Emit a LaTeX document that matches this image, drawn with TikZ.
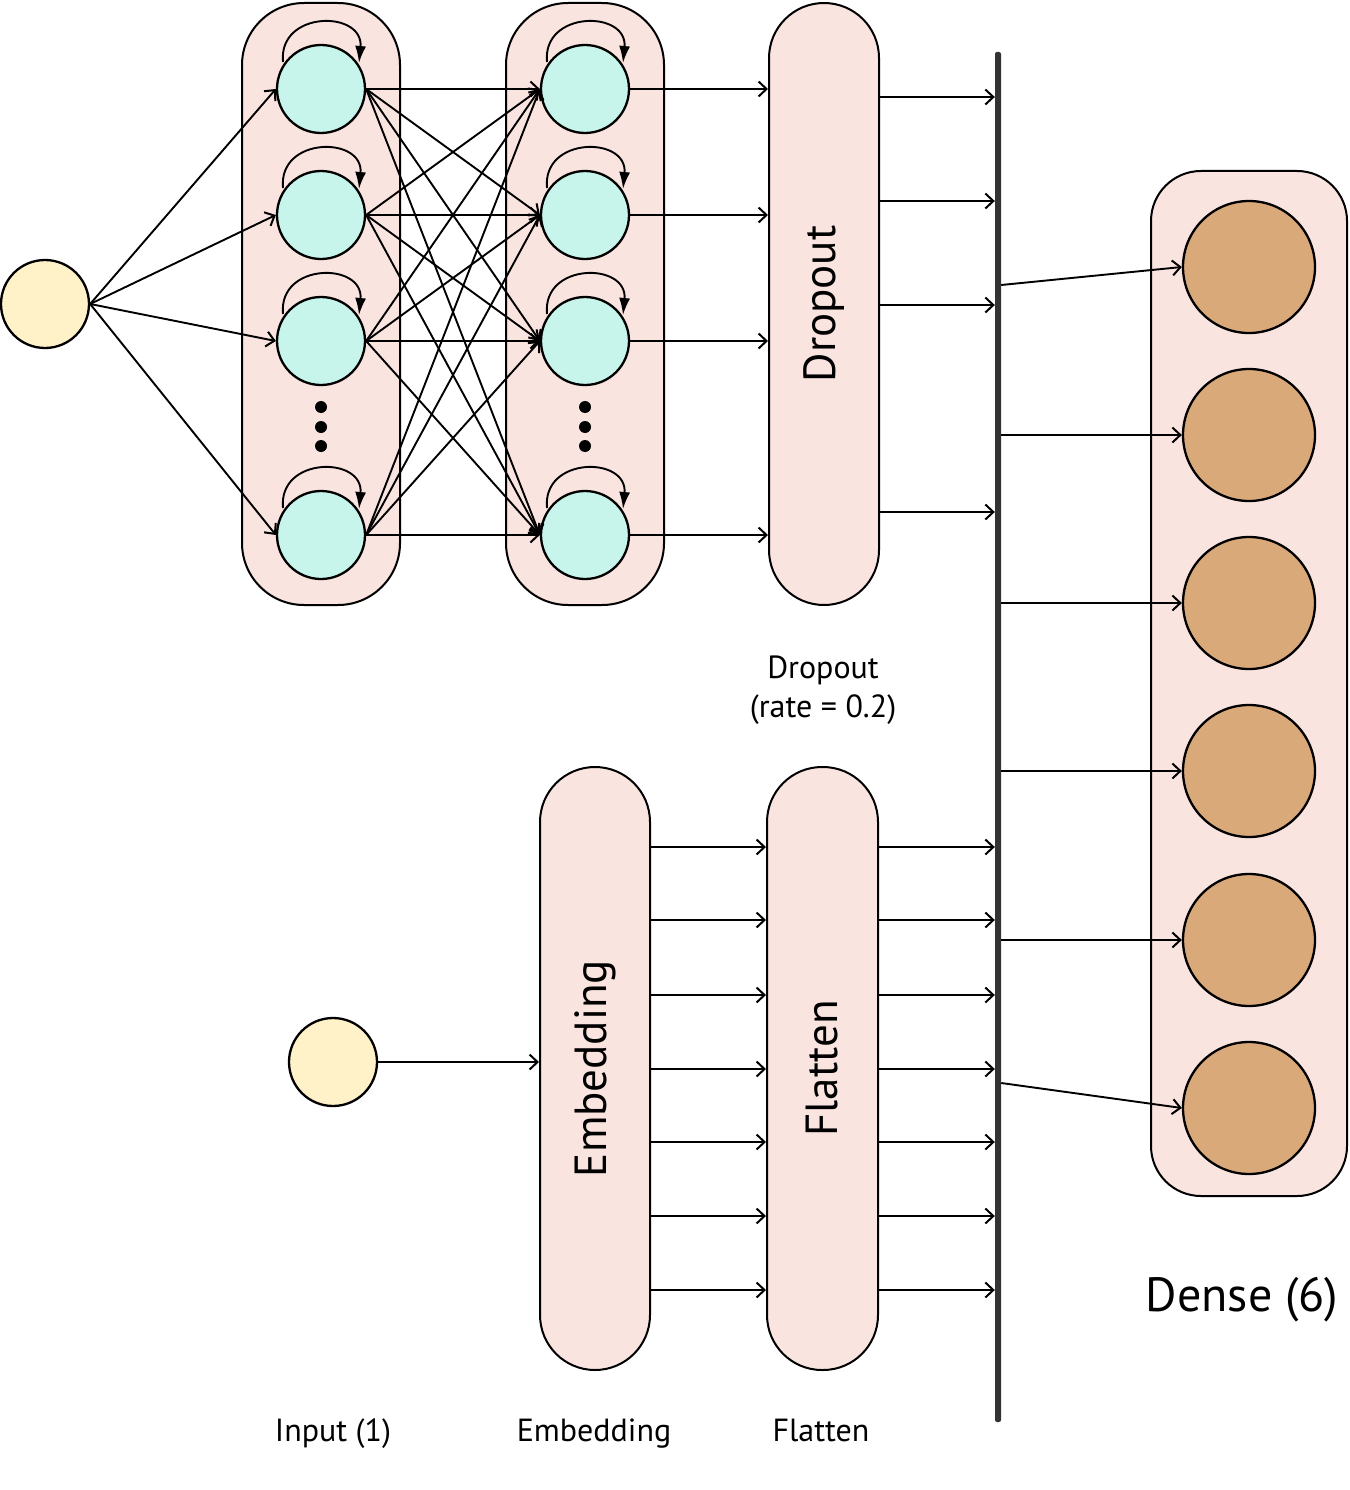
\documentclass[tikz,border=0pt]{standalone}
\usepackage{fontspec}
\setmainfont{PT Sans}
\usetikzlibrary{arrows.meta,calc}
\definecolor{boxpink}{RGB}{250,228,224}
\definecolor{mint}{RGB}{200,245,235}
\definecolor{inyellow}{RGB}{255,242,200}
\definecolor{tan}{RGB}{217,169,122}
\definecolor{bardark}{RGB}{51,51,51}
\newcommand{\lblfont}{\fontsize{32}{39}\selectfont}
\newcommand{\boxfont}{\fontsize{45}{50}\selectfont}
\newcommand{\densefont}{\fontsize{48}{54}\selectfont}
\tikzset{
  layerbox/.style={draw=black, line width=2pt, fill=boxpink, rectangle, inner sep=0pt},
  lstmunit/.style={draw=black, line width=2.3pt, fill=mint, circle, minimum size=88pt, inner sep=0pt},
  inunit/.style={draw=black, line width=2.3pt, fill=inyellow, circle, minimum size=88pt, inner sep=0pt},
  denseunit/.style={draw=black, line width=2.3pt, fill=tan, circle, minimum size=132pt, inner sep=0pt},
  conn/.style={line width=1.9pt, -{Straight Barb[length=8pt,width=15pt,line width=2pt]}},
  selfloop/.style={line width=1.9pt, -{Latex[length=17pt,width=11pt]}},
  dotmark/.style={circle, fill=black, minimum size=12pt, inner sep=0pt},
  lbl/.style={font=\lblfont, align=center, inner sep=0pt},
}
\begin{document}
\begin{tikzpicture}[x=1pt,y=-1pt]
\useasboundingbox (0,0) rectangle (1349,1490);

% layer boxes
\node[layerbox, minimum width=158pt, minimum height=602pt, rounded corners=62pt] (lstmA) at (321,304) {};
\node[layerbox, minimum width=158pt, minimum height=602pt, rounded corners=62pt] (lstmB) at (585,304) {};
\node[layerbox, minimum width=110pt, minimum height=602pt, rounded corners=55pt] (drop) at (824,304) {};
\node[layerbox, minimum width=110pt, minimum height=603pt, rounded corners=55pt] (emb) at (595,1068.5) {};
\node[layerbox, minimum width=111pt, minimum height=603pt, rounded corners=55pt] (flat) at (822.5,1068.5) {};
\node[layerbox, minimum width=196pt, minimum height=1025pt, rounded corners=50pt] (dense) at (1249,683.5) {};

% box texts
\node[rotate=90, font=\boxfont, inner sep=0pt] (droptext) at (drop.center) {Dropout};
\node[rotate=90, font=\boxfont, inner sep=0pt] (embtext) at (emb.center) {Embedding};
\node[rotate=90, font=\boxfont, inner sep=0pt] (flattext) at (flat.center) {Flatten};

% input units
\node[inunit] (in1) at (45,304) {};
\node[inunit] (in2) at (333,1062) {};

% LSTM units
\foreach \i/\y in {1/89,2/215,3/341,4/535}{
  \node[lstmunit] (a\i) at (321,\y) {};
  \node[lstmunit] (b\i) at (585,\y) {};
}
% dots
\foreach \y [count=\k] in {407,427,446}{
  \node[dotmark] (da\k) at (321,\y) {};
  \node[dotmark] (db\k) at (585,\y) {};
}
% self loops
\foreach \n in {a1,a2,a3,a4,b1,b2,b3,b4}{
  \draw[selfloop] ($(\n.center)+(-38,-27)$) .. controls ($(\n.center)+(-43,-79)$) and ($(\n.center)+(43,-79)$) .. ($(\n.center)+(38,-26)$);
}

% input -> LSTM A
\foreach \i in {1,2,3,4}{
  \draw[conn] (in1.east) -- (a\i.west);
}
% LSTM A -> LSTM B (full)
\foreach \i in {1,2,3,4}{
  \foreach \j in {1,2,3,4}{
    \draw[conn] (a\i.east) -- (b\j.west);
  }
}
% LSTM B -> Dropout
\foreach \i in {1,2,3,4}{
  \draw[conn] (b\i.east) -- (drop.west |- b\i.center);
}

% concatenation bar
\node[rectangle, fill=bardark, minimum width=6pt, minimum height=1370pt, inner sep=0pt, rounded corners=2pt] (bar) at (998,737) {};

% Dropout -> bar
\foreach \y [count=\k] in {97,201,305,512}{
  \coordinate (dp\k) at (0,\y);
  \draw[conn] (drop.east |- dp\k) -- (bar.west |- dp\k);
}

% input2 -> embedding
\draw[conn] (in2.east) -- (emb.west |- in2.center);

% embedding -> flatten -> bar
\foreach \y [count=\k] in {847,920,995,1069,1142,1216,1290}{
  \coordinate (ef\k) at (0,\y);
  \draw[conn] (emb.east |- ef\k) -- (flat.west |- ef\k);
  \draw[conn] (flat.east |- ef\k) -- (bar.west |- ef\k);
}

% dense units
\foreach \y [count=\k] in {267,435,603,771,940,1108}{
  \node[denseunit] (d\k) at (1249,\y) {};
}
% bar -> dense
\coordinate (bs1) at (0,285);
\coordinate (bs6) at (0,1083);
\draw[conn] (bar.east |- bs1) -- (d1.west);
\foreach \k in {2,3,4,5}{
  \draw[conn] (bar.east |- d\k.center) -- (d\k.west);
}
\draw[conn] (bar.east |- bs6) -- (d6.west);

% labels
\node[lbl] (droplbl) at (823,690) {Dropout\\(rate = 0.2)};
\node[lbl, anchor=base] (inlbl) at (333,1441) {Input (1)};
\node[lbl, anchor=base] (emblbl) at (594,1441) {Embedding};
\node[lbl, anchor=base] (flatlbl) at (821,1441) {Flatten};
\node[font=\densefont, inner sep=0pt, anchor=base] (denselbl) at (1242,1311) {Dense (6)};
\end{tikzpicture}
\end{document}
